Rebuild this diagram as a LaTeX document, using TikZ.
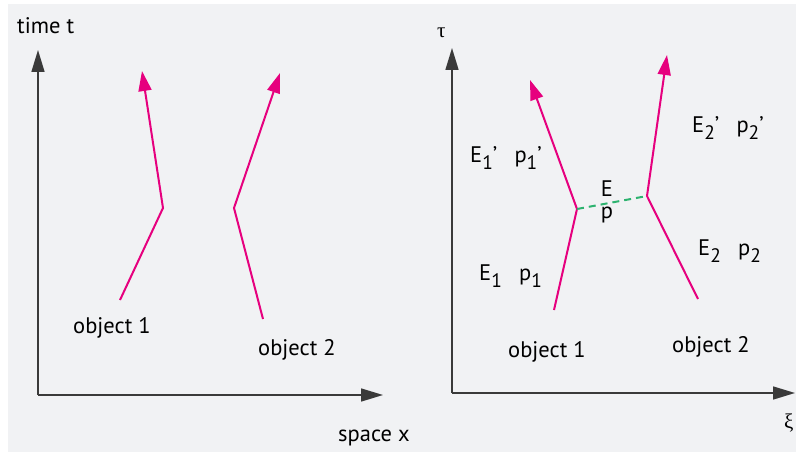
\documentclass[tikz,border=0pt]{standalone}
\usepackage{fontspec}
\setmainfont{PT Sans}
\newfontfamily\grk{Liberation Serif}
\usetikzlibrary{arrows.meta}
\definecolor{bgc}{HTML}{F1F2F4}
\definecolor{mag}{HTML}{E6007E}
\definecolor{axc}{HTML}{3A3A3A}
\definecolor{grn}{HTML}{2DB36F}
\newcommand\sbs[1]{\raisebox{-0.32em}{\fontsize{19.5}{22}\selectfont #1}}
\begin{document}
\begin{tikzpicture}[x=1pt,y=-1pt,
  lbl/.style={inner sep=0pt, font=\fontsize{22.5}{26}\selectfont, anchor=base west, text=black},
  world/.style={draw=mag, line width=2pt, -{Triangle[length=20pt,width=13pt]}},
  axis/.style={draw=axc, line width=1.6pt, -{Triangle[length=22pt,width=13pt]}},
  link/.style={draw=grn, line width=2pt, dash pattern=on 7pt off 5pt}]
\useasboundingbox (0,0) rectangle (796,452);
\fill[white] (0,0) rectangle (796,452);
\fill[bgc] (8,4) rectangle (796,452);
% left panel
\coordinate (LO) at (38,395);
\coordinate (LY) at (38,50);
\coordinate (LX) at (383,395);
\draw[axis] (LO) -- (LY);
\draw[axis] (LO) -- (LX);
\coordinate (la0) at (120,300);
\coordinate (la1) at (163,208);
\coordinate (la2) at (142,71);
\coordinate (lb0) at (263,319);
\coordinate (lb1) at (234,208);
\coordinate (lb2) at (280,73);
\draw[world] (la0) -- (la1) -- (la2);
\draw[world] (lb0) -- (lb1) -- (lb2);
\node[lbl] (tt) at (17,34) {time t};
\node[lbl] (sx) at (338,441) {space x};
\node[lbl] (lo1) at (73,333) {object 1};
\node[lbl] (lo2) at (258,355) {object 2};
% right panel
\coordinate (RO) at (452,393);
\coordinate (RY) at (452,48);
\coordinate (RX) at (795,393);
\draw[axis] (RO) -- (RY);
\draw[axis] (RO) -- (RX);
\coordinate (ra0) at (554,310);
\coordinate (ra1) at (577,209);
\coordinate (ra2) at (530,80);
\coordinate (rb0) at (698,299);
\coordinate (rb1) at (647,196);
\coordinate (rb2) at (667,55);
\draw[world] (ra0) -- (ra1) -- (ra2);
\draw[world] (rb0) -- (rb1) -- (rb2);
\draw[link] (ra1) -- (rb1);
\node[lbl, font=\grk\fontsize{21}{24}\selectfont] (tau) at (437,38) {τ};
\node[lbl, font=\grk\fontsize{21}{24}\selectfont] (xi) at (784,428) {ξ};
\node[lbl, anchor=base] (E) at (607,196) {E};
\node[lbl, anchor=base] (p) at (607,218) {p};
\node[lbl] (e1p) at (470,162) {E\sbs{1}’\,\,\, p\sbs{1}’};
\node[lbl] (e2p) at (692,132) {E\sbs{2}’\,\,\, p\sbs{2}’};
\node[lbl] (e1) at (479,280) {E\sbs{1}\,\,\, p\sbs{1}};
\node[lbl] (e2) at (698,255) {E\sbs{2}\,\,\, p\sbs{2}};
\node[lbl] (ro1) at (508,357) {object 1};
\node[lbl] (ro2) at (672,352) {object 2};
\end{tikzpicture}
\end{document}
